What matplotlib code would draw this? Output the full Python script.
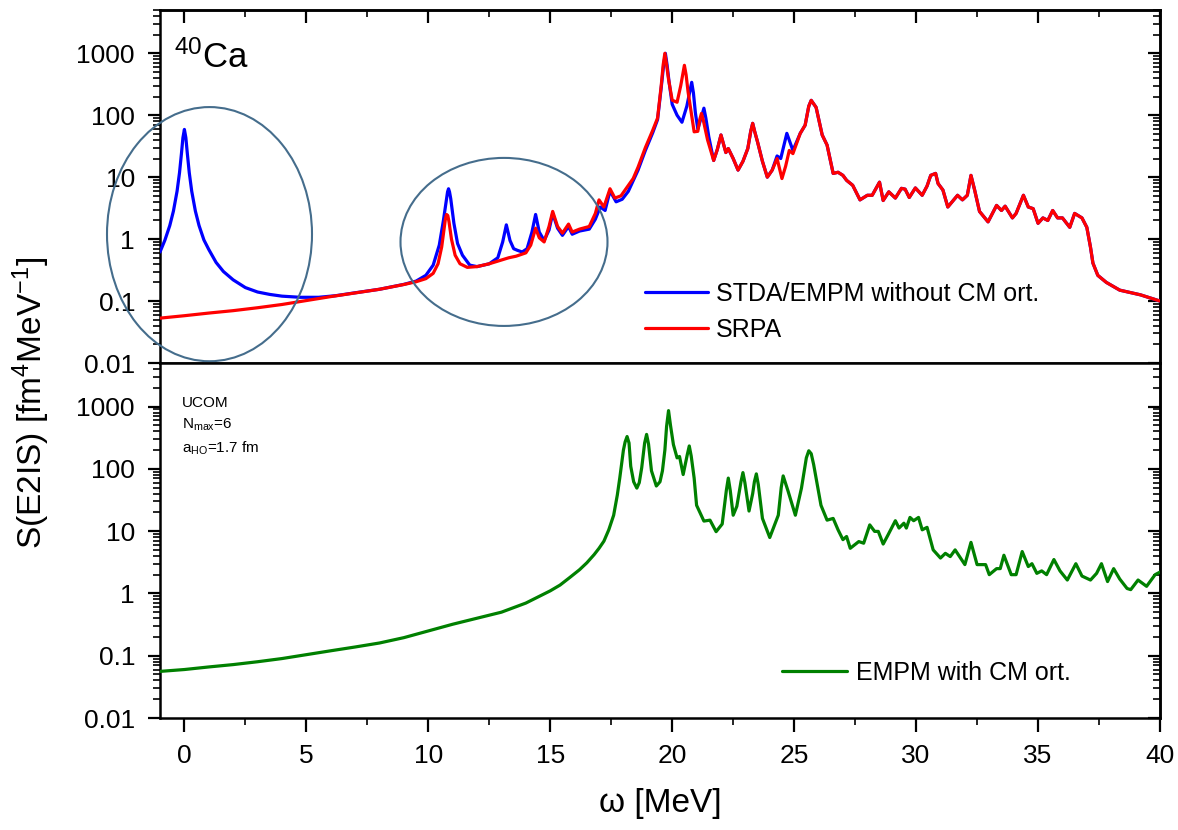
import numpy as np
import matplotlib
matplotlib.use("Agg")
import matplotlib.pyplot as plt
from matplotlib.ticker import LogLocator, MultipleLocator, FuncFormatter, NullFormatter
from matplotlib.patches import Ellipse

plt.rcParams['font.family'] = ['Liberation Sans', 'DejaVu Sans']
plt.rcParams['mathtext.fontset'] = 'custom'
plt.rcParams['mathtext.rm'] = 'Liberation Sans'
plt.rcParams['mathtext.it'] = 'Liberation Sans:italic'
plt.rcParams['mathtext.bf'] = 'Liberation Sans:bold'

# ---------------- data ----------------
# SRPA (red, top panel)
srpa_x = [-1.0, 0.0, 1.0, 2.0, 3.0, 4.0, 5.0, 6.0, 7.0, 8.0, 9.0, 9.5, 9.9, 10.2, 10.4, 10.55,
          10.65, 10.7, 10.75, 10.8, 10.85, 10.95, 11.1, 11.3, 11.6, 12.0, 12.5, 13.0, 13.3, 13.6,
          14.0, 14.2, 14.4, 14.55, 14.75, 14.95, 15.1, 15.3, 15.5, 15.75, 15.9, 16.2, 16.6, 16.85,
          17.0, 17.2, 17.45, 17.65, 17.9, 18.15, 18.4, 18.6, 18.9, 19.2, 19.4, 19.55, 19.63, 19.7,
          19.77, 19.85, 20.0, 20.2, 20.35, 20.43, 20.5, 20.57, 20.65, 20.9, 21.05, 21.13, 21.2,
          21.27, 21.45, 21.7, 21.85, 22.0, 22.2, 22.3, 22.5, 22.7, 22.9, 23.1, 23.22, 23.3, 23.38,
          23.5, 23.7, 23.9, 24.1, 24.3, 24.5, 24.65, 24.8, 24.95, 25.25, 25.45, 25.6, 25.7, 25.9,
          26.15, 26.35, 26.6, 26.8, 27.0, 27.15, 27.4, 27.7, 28.0, 28.2, 28.5, 28.65, 28.88, 29.15,
          29.4, 29.55, 29.72, 29.97, 30.25, 30.45, 30.6, 30.8, 30.9, 31.1, 31.3, 31.7, 31.9, 32.1,
          32.25, 32.4, 32.6, 32.95, 33.3, 33.5, 33.65, 33.95, 34.1, 34.4, 34.6, 34.8, 35.0, 35.2,
          35.4, 35.6, 35.8, 36.0, 36.3, 36.5, 36.8, 37.0, 37.15, 37.25, 37.45, 37.8, 38.35, 39.2,
          40.0]
srpa_y = [0.053, 0.058, 0.064, 0.07, 0.078, 0.088, 0.102, 0.118, 0.135, 0.155, 0.185, 0.205, 0.23,
          0.28, 0.4, 0.75, 1.5, 2.1, 2.5, 2.4, 1.9, 1.0, 0.55, 0.4, 0.35, 0.36, 0.4, 0.46, 0.5,
          0.53, 0.6, 0.8, 1.5, 1.05, 0.9, 1.6, 2.8, 1.6, 1.25, 1.75, 1.3, 1.45, 1.6, 2.6, 4.3, 3.3,
          6.5, 4.6, 5.0, 6.9, 9.5, 14.5, 30, 57, 90, 300, 650, 1000, 650, 380, 175, 162, 300, 450,
          640, 450, 240, 54, 55, 85, 107, 85, 40, 18.6, 28, 48, 25, 29, 20, 13, 18, 29, 55, 74, 55,
          37, 18, 10, 13, 20, 9.5, 15, 27, 24, 51, 69, 140, 174, 134, 48, 33, 11.5, 12, 10.7, 8.9,
          7.4, 4.3, 5.1, 5.1, 8.3, 4.2, 5.8, 4.6, 6.6, 6.4, 4.7, 6.7, 5.1, 7.2, 10.7, 11.5, 7.9,
          6.2, 3.3, 5.1, 4.3, 5.1, 10.7, 6.2, 2.8, 1.9, 3.5, 2.9, 3.4, 2.2, 2.6, 5.1, 3.3, 3.1,
          1.8, 2.2, 2.0, 2.9, 2.2, 2.2, 1.55, 2.6, 2.2, 1.55, 0.74, 0.41, 0.26, 0.2, 0.15, 0.126,
          0.1]

# STDA/EMPM without CM orthogonalisation (blue, top panel)
stda_x = [-1.0, -0.8, -0.6, -0.45, -0.3, -0.2, -0.12, -0.06, 0.0, 0.06, 0.12, 0.2, 0.3, 0.45,
          0.6, 0.8, 1.0, 1.3, 1.6, 2.0, 2.5, 3.0, 3.5, 4.0, 4.75, 5.5, 6.2, 7.0, 8.0, 9.0, 9.5,
          9.9, 10.2, 10.45, 10.62, 10.75, 10.79, 10.83, 10.87, 10.92, 11.05, 11.2, 11.4, 11.7,
          12.0, 12.5, 12.85, 13.05, 13.2, 13.35, 13.5, 13.65, 13.85, 14.05, 14.25, 14.4, 14.55,
          14.75, 14.95, 15.1, 15.3, 15.5, 15.75, 15.9, 16.2, 16.6, 16.85, 17.05, 17.25, 17.45,
          17.7, 17.95, 18.2, 18.6, 18.9, 19.2, 19.4, 19.55, 19.65, 19.72, 19.79, 19.87, 20.0,
          20.2, 20.4, 20.6, 20.73, 20.8, 20.87, 20.95, 21.05, 21.22, 21.3, 21.38, 21.5, 21.7,
          21.85, 22.0, 22.2, 22.3, 22.5, 22.7, 22.9, 23.1, 23.22, 23.3, 23.38, 23.5, 23.7, 23.9,
          24.1, 24.3, 24.45, 24.7, 24.95, 25.25, 25.45, 25.6, 25.7, 25.9, 26.15, 26.35, 26.6,
          26.8, 27.0, 27.15, 27.4, 27.7, 28.0, 28.2, 28.5, 28.65, 28.88, 29.15, 29.4, 29.55,
          29.72, 29.97, 30.25, 30.45, 30.6, 30.8, 30.9, 31.1, 31.3, 31.7, 31.9, 32.1, 32.25,
          32.4, 32.6, 32.95, 33.3, 33.5, 33.65, 33.95, 34.1, 34.4, 34.6, 34.8, 35.0, 35.2, 35.4,
          35.6, 35.8, 36.0, 36.3, 36.5, 36.8, 37.0, 37.15, 37.25, 37.45, 37.8, 38.35, 39.2, 40.0]
stda_y = [0.62, 0.96, 1.65, 2.83, 5.95, 11.8, 24.2, 43.4, 59, 43.4, 24.2, 11.8, 5.95, 2.84, 1.66,
          0.97, 0.68, 0.42, 0.3, 0.22, 0.165, 0.14, 0.128, 0.12, 0.115, 0.115, 0.122, 0.136,
          0.155, 0.186, 0.21, 0.26, 0.38, 0.8, 2.0, 4.5, 5.8, 6.5, 5.8, 4.5, 1.8, 0.85, 0.55,
          0.38, 0.36, 0.4, 0.5, 0.9, 1.7, 0.95, 0.7, 0.66, 0.62, 0.7, 1.3, 2.5, 1.3, 0.95, 1.4,
          2.6, 1.5, 1.15, 1.6, 1.2, 1.35, 1.45, 2.1, 3.3, 2.9, 6.0, 4.0, 4.4, 5.9, 13, 27, 52, 85,
          280, 650, 1000, 650, 350, 150, 100, 77, 140, 250, 340, 230, 110, 60, 100, 130, 90, 45,
          18.6, 28, 48, 25, 29, 20, 13, 18, 29, 55, 74, 55, 37, 18, 10, 13, 22, 20, 51, 27, 51,
          69, 140, 174, 134, 48, 33, 11.5, 12, 10.7, 8.9, 7.4, 4.3, 5.1, 5.1, 8.3, 4.2, 5.8, 4.6,
          6.6, 6.4, 4.7, 6.7, 5.1, 7.2, 10.7, 11.5, 7.9, 6.2, 3.3, 5.1, 4.3, 5.1, 10.7, 6.2, 2.8,
          1.9, 3.5, 2.9, 3.4, 2.2, 2.6, 5.1, 3.3, 3.1, 1.8, 2.2, 2.0, 2.9, 2.2, 2.2, 1.55, 2.6,
          2.2, 1.55, 0.74, 0.41, 0.26, 0.2, 0.15, 0.126, 0.1]

# EMPM with CM orthogonalisation (green, bottom panel)
empm_x = [-1.0, 0.0, 1.0, 2.0, 3.0, 4.0, 5.0, 6.0, 7.0, 8.0, 9.0, 10.0, 11.0, 12.0, 13.0, 14.0,
          15.0, 15.4, 15.8, 16.2, 16.5, 16.8, 17.0, 17.2, 17.4, 17.6, 17.75, 17.85, 18.0, 18.07,
          18.15, 18.23, 18.3, 18.42, 18.55, 18.65, 18.75, 18.87, 18.95, 19.03, 19.15, 19.35,
          19.5, 19.6, 19.7, 19.77, 19.85, 19.93, 20.05, 20.2, 20.3, 20.45, 20.62, 20.7, 20.78,
          20.9, 21.0, 21.3, 21.55, 21.8, 22.05, 22.22, 22.3, 22.38, 22.5, 22.65, 22.82, 22.9,
          22.98, 23.15, 23.3, 23.37, 23.45, 23.53, 23.7, 24.0, 24.35, 24.47, 24.55, 24.75, 25.05,
          25.3, 25.5, 25.6, 25.7, 25.8, 26.1, 26.35, 26.6, 26.8, 27.0, 27.15, 27.3, 27.65, 27.85,
          28.1, 28.3, 28.45, 28.65, 28.85, 29.15, 29.3, 29.5, 29.6, 29.75, 29.9, 30.1, 30.25,
          30.45, 30.7, 31.0, 31.2, 31.4, 31.6, 32.0, 32.25, 32.5, 32.85, 33.0, 33.3, 33.45, 33.6,
          33.9, 34.1, 34.35, 34.6, 34.75, 34.95, 35.15, 35.35, 35.65, 35.9, 36.2, 36.55, 36.8,
          37.15, 37.4, 37.6, 37.85, 38.1, 38.35, 38.65, 38.8, 39.1, 39.45, 39.8, 40.0]
empm_y = [0.056, 0.06, 0.066, 0.072, 0.08, 0.09, 0.104, 0.12, 0.138, 0.16, 0.195, 0.25, 0.32,
          0.4, 0.5, 0.7, 1.1, 1.36, 1.8, 2.4, 3.1, 4.2, 5.3, 6.9, 10.5, 18, 38, 71, 200, 270, 330,
          260, 110, 62, 49, 60, 104, 260, 357, 250, 93, 53, 62, 93, 200, 480, 860, 500, 245, 150,
          158, 81, 170, 233, 160, 71, 26, 14.5, 15, 9.8, 13, 45, 71, 45, 18, 25, 62, 87, 60, 21,
          40, 62, 83, 56, 16, 7.9, 18, 50, 77, 44, 18, 49, 150, 195, 175, 117, 26, 15, 16, 10.5,
          7.3, 8.2, 5.3, 6.8, 6.4, 12.6, 9.9, 9.9, 6.2, 8.7, 14.7, 11.2, 13.4, 11.2, 16.6, 14.7,
          16.6, 10.5, 11.5, 5.0, 3.7, 4.4, 3.9, 5.0, 2.9, 6.6, 2.9, 2.9, 2.0, 2.5, 2.5, 4.1, 2.0,
          2.0, 4.7, 2.7, 3.0, 2.1, 2.3, 2.0, 3.5, 2.3, 1.64, 3.0, 1.9, 1.64, 2.1, 3.0, 1.55, 2.5,
          1.7, 1.2, 1.15, 1.64, 1.3, 2.0, 2.2]

labels_top = ["STDA/EMPM without CM ort.", "SRPA"]
label_bottom = "EMPM with CM ort."

# ---------------- figure ----------------
W, H = 1178, 830
fig = plt.figure(figsize=(W / 100, H / 100), dpi=100)

def frac(x0, y0, x1, y1):
    return [x0 / W, 1 - y1 / H, (x1 - x0) / W, (y1 - y0) / H]

ax1 = fig.add_axes(frac(160, 10, 1160, 363))
ax2 = fig.add_axes(frac(160, 363, 1160, 718))

lkw = dict(lw=2.3, solid_joinstyle='round', solid_capstyle='round')
ax1.plot(stda_x, stda_y, color='#0000ff', label=labels_top[0], zorder=3, **lkw)
ax1.plot(srpa_x, srpa_y, color='#ff0000', label=labels_top[1], zorder=4, **lkw)
ax2.plot(empm_x, empm_y, color='#008000', label=label_bottom, zorder=3, **lkw)

fmt = FuncFormatter(lambda v, p: f'{v:g}')
for ax in (ax1, ax2):
    ax.set_yscale('log')
    ax.set_ylim(0.01, 5000)
    ax.set_xlim(-1, 40)
    ax.yaxis.set_major_locator(LogLocator(base=10, numticks=20))
    ax.yaxis.set_minor_locator(LogLocator(base=10, subs=np.arange(2, 10), numticks=20))
    ax.yaxis.set_major_formatter(fmt)
    ax.yaxis.set_minor_formatter(NullFormatter())
    ax.xaxis.set_major_locator(MultipleLocator(5))
    ax.xaxis.set_minor_locator(MultipleLocator(2.5))
    ax.tick_params(axis='y', which='major', direction='out', length=9, width=1.6,
                   labelsize=19, pad=9, right=False)
    ax.tick_params(axis='y', which='minor', direction='out', length=5, width=1.2, right=False)
    ax.tick_params(axis='x', which='major', direction='out', length=10, width=1.6,
                   labelsize=19, pad=9, top=False)
    ax.tick_params(axis='x', which='minor', direction='out', length=5, width=1.2, top=False)
    for s in ax.spines.values():
        s.set_linewidth(1.8)
    sy = ax.secondary_yaxis('right')
    sy.yaxis.set_major_locator(LogLocator(base=10, numticks=20))
    sy.yaxis.set_minor_locator(LogLocator(base=10, subs=np.arange(2, 10), numticks=20))
    sy.yaxis.set_minor_formatter(NullFormatter())
    sy.tick_params(axis='y', which='major', direction='in', length=9, width=1.6, labelright=False)
    sy.tick_params(axis='y', which='minor', direction='in', length=5, width=1.2)
    sy.spines['right'].set_linewidth(1.8)

ax1.tick_params(axis='x', labelbottom=False)
sx = ax1.secondary_xaxis('top')
sx.xaxis.set_major_locator(MultipleLocator(5))
sx.xaxis.set_minor_locator(MultipleLocator(2.5))
sx.tick_params(axis='x', which='major', direction='in', length=9, width=1.6, labeltop=False)
sx.tick_params(axis='x', which='minor', direction='in', length=5, width=1.2)
sx.spines['top'].set_linewidth(1.8)

# ellipses highlighting regions
ell_color = '#456d8c'
ax1.add_patch(Ellipse((0.0495, 0.365), 0.205, 0.72, transform=ax1.transAxes, fill=False,
                      ec=ell_color, lw=1.5, clip_on=False, zorder=5))
ax1.add_patch(Ellipse((0.344, 0.343), 0.207, 0.476, transform=ax1.transAxes, fill=False,
                      ec=ell_color, lw=1.5, clip_on=False, zorder=5))

# legends
ax1.legend(loc='upper left', bbox_to_anchor=((645 - 160) / 1000, (363 - 282) / 353),
           frameon=False, fontsize=18, handlelength=2.5, handletextpad=0.35,
           labelspacing=0.46, borderpad=0, borderaxespad=0)
ax2.legend(loc='upper left', bbox_to_anchor=((782 - 160) / 1000, (718 - 661) / 355),
           frameon=False, fontsize=18, handlelength=2.6, handletextpad=0.35,
           borderpad=0, borderaxespad=0)

# texts
fig.text(174 / W, 1 - 68 / H, r'$^{40}$Ca', fontsize=25, va='baseline', ha='left')
fig.text(182 / W, 1 - 407 / H, 'UCOM', fontsize=11, va='baseline', ha='left')
fig.text(182 / W, 1 - 429 / H, r'N$_{\mathrm{max}}$=6', fontsize=11, va='baseline', ha='left')
fig.text(182 / W, 1 - 453 / H, r'a$_{\mathrm{HO}}$=1.7 fm', fontsize=11, va='baseline', ha='left')

fig.text(31 / W, 1 - 403 / H, r'S(E2IS) [fm$^{4}$MeV$^{-1}$]', fontsize=24, rotation=90,
         ha='center', va='center')
fig.text(660 / W, 1 - 803 / H, 'ω [MeV]', fontsize=24, ha='center', va='center')

fig.savefig('out.png', dpi=100)
